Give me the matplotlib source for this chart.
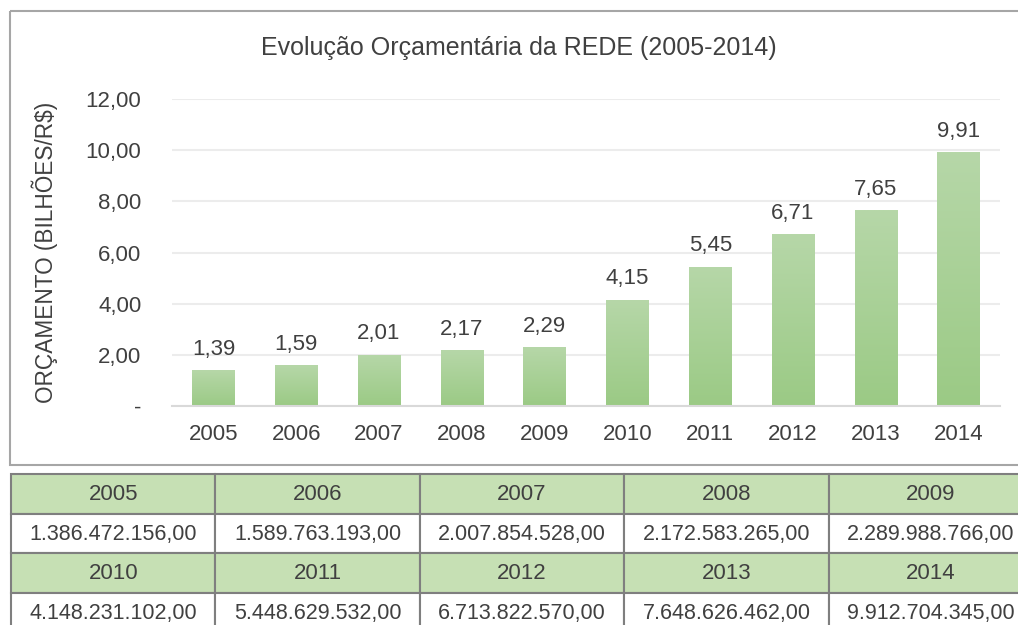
import matplotlib.pyplot as plt
import numpy as np
from matplotlib.patches import Rectangle
from matplotlib.colors import LinearSegmentedColormap
from matplotlib import font_manager

# dados
anos = ['2005', '2006', '2007', '2008', '2009', '2010', '2011', '2012', '2013', '2014']
orcamento_bi = [1.39, 1.59, 2.01, 2.17, 2.29, 4.15, 5.45, 6.71, 7.65, 9.91]
orcamento_txt = ['1.386.472.156,00', '1.589.763.193,00', '2.007.854.528,00',
                 '2.172.583.265,00', '2.289.988.766,00', '4.148.231.102,00',
                 '5.448.629.532,00', '6.713.822.570,00', '7.648.626.462,00',
                 '9.912.704.345,00']
y_ticks = [0, 2, 4, 6, 8, 10, 12]
y_labels = ['-', '2,00', '4,00', '6,00', '8,00', '10,00', '12,00']

nomes = {f.name for f in font_manager.fontManager.ttflist}
fonte = 'Liberation Sans Narrow' if 'Liberation Sans Narrow' in nomes else 'Liberation Sans'
plt.rcParams['font.family'] = [fonte, 'DejaVu Sans']
cor_txt = '#404040'

W, H = 1018, 625
fig = plt.figure(figsize=(W / 100, H / 100), dpi=100)

# camada de fundo em pixels (moldura + tabela)
bg = fig.add_axes([0, 0, 1, 1])
bg.set_xlim(0, W)
bg.set_ylim(H, 0)
bg.axis('off')
bg.add_patch(Rectangle((10, 11), 1030, 454, fill=False, edgecolor='#a6a6a6', lw=1.5))

# tabela
col_x = 11
col_w = 204.4
row_y = [474, 513.5, 553, 592.5]
row_h = 39.5
for r in range(2):
    for c in range(5):
        i = r * 5 + c
        x0 = col_x + c * col_w
        yh = row_y[2 * r]
        yv = row_y[2 * r + 1]
        bg.add_patch(Rectangle((x0, yh), col_w, row_h, facecolor='#c6e0b4',
                               edgecolor='#7f7f7f', lw=1.5))
        bg.add_patch(Rectangle((x0, yv), col_w, row_h, facecolor='white',
                               edgecolor='#7f7f7f', lw=1.5))
        bg.text(x0 + col_w / 2, yh + row_h / 2 + 1, anos[i], ha='center', va='center',
                fontsize=16, color=cor_txt)
        bg.text(x0 + col_w / 2, yv + row_h / 2 + 1, orcamento_txt[i], ha='center',
                va='center', fontsize=15.5, color=cor_txt)

# grafico
ax = fig.add_axes([172 / W, (H - 406) / H, 828 / W, 307 / H])
x = np.arange(len(anos))
ax.set_xlim(-0.5, len(anos) - 0.5)
ax.set_ylim(0, 12)
ax.set_yticks(y_ticks)
ax.set_yticklabels(y_labels)
ax.set_xticks(x)
ax.set_xticklabels(anos)
ax.tick_params(length=0, labelsize=16, colors=cor_txt)
ax.tick_params(axis='y', pad=22)
ax.tick_params(axis='x', pad=13)
for s in ['top', 'right', 'left']:
    ax.spines[s].set_visible(False)
ax.spines['bottom'].set_color('#d9d9d9')
ax.spines['bottom'].set_linewidth(1.5)
ax.grid(axis='y', color='#ececec', lw=1.5)
ax.set_axisbelow(True)

grad = np.linspace(0, 1, 100).reshape(-1, 1)
cmap = LinearSegmentedColormap.from_list('verde', ['#9bca85', '#b6d7a8'])
barras = ax.bar(x, orcamento_bi, width=0.51, color='none', edgecolor='none')
for b, v in zip(barras, orcamento_bi):
    bx, bw = b.get_x(), b.get_width()
    im = ax.imshow(grad, extent=[bx, bx + bw, 0, v], origin='lower', cmap=cmap,
                   aspect='auto', zorder=2)
    im.set_clip_path(b)
    ax.text(b.get_x() + bw / 2, v + 0.42, f'{v:.2f}'.replace('.', ','),
            ha='center', va='bottom', fontsize=16, color=cor_txt)
ax.set_xlim(-0.5, len(anos) - 0.5)
ax.set_ylim(0, 12)

ax.set_ylabel('ORÇAMENTO (BILHÕES/R$)', fontsize=16.3, color=cor_txt)
ax.yaxis.set_label_coords((58 - 172) / 828, 0.5)
fig.text(519 / W, 1 - 48 / H, 'Evolução Orçamentária da REDE (2005-2014)',
         ha='center', va='center', fontsize=18, color=cor_txt)

fig.savefig('out.png', dpi=100)
